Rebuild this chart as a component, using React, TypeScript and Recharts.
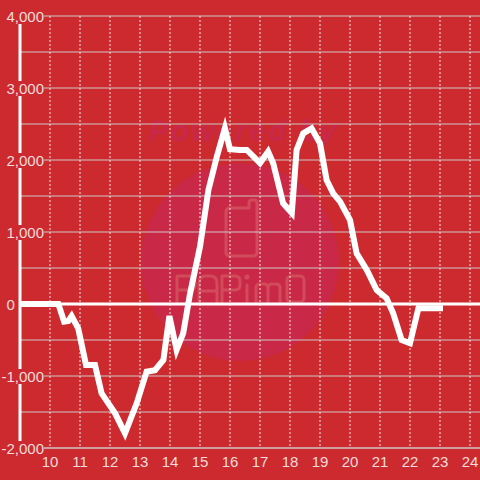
import { LineChart, Line, XAxis, YAxis, CartesianGrid, ReferenceLine } from "recharts";

// time of day (decimal hours) and running value
const hours = [
  9, 10.28, 10.47, 10.61, 10.72, 10.94, 11.2, 11.5, 11.72, 12.17, 12.5, 12.89, 13.22, 13.5,
  13.78, 13.98, 14.22, 14.44, 14.67, 15.0, 15.28, 15.56, 15.83, 16.0, 16.33, 16.56, 17.0,
  17.27, 17.44, 17.77, 18.06, 18.22, 18.44, 18.72, 19.0, 19.22, 19.44, 19.67, 20.0, 20.22,
  20.56, 20.89, 21.22, 21.44, 21.72, 22.0, 22.28, 23.0,
];
const values = [
  0, 0, -245, -235, -167, -338, -847, -847, -1241, -1518, -1796, -1380, -940, -920,
  -778, -167, -639, -407, 148, 796, 1583, 2046, 2440, 2150, 2140, 2140, 1958,
  2116, 1954, 1400, 1264, 2139, 2370, 2440, 2231, 1722, 1537, 1421, 1167, 704,
  472, 194, 79, -130, -500, -546, -60, -60,
];

const xTicks = [10, 11, 12, 13, 14, 15, 16, 17, 18, 19, 20, 21, 22, 23, 24];
const yTicks = [-2000, -1000, 0, 1000, 2000, 3000, 4000];
const yGrid = [-2000, -1500, -1000, -500, 0, 500, 1000, 1500, 2000, 2500, 3000, 3500, 4000];

const data = hours.map((h, i) => ({ h, v: values[i] }));

const BG = "#cc2a2f";
const LABEL = "#f2dcdc";
const MARK = "#d24b5b";
const FONT = "'Liberation Sans', Arial, sans-serif";
const FS = 15;

const fmt = (v: number) => v.toLocaleString("en-US");

// rough Liberation Sans advance widths
function charW(c: string) {
  return (c === "," ? 0.278 : c === "-" ? 0.333 : 0.556) * FS;
}
function textWidth(s: string) {
  let w = 0;
  for (const c of s) w += charW(c);
  return w;
}

/** y labels sit on top of the axis bar (minus sign hangs left), with a background patch */
function YTick({ x, y, payload }: any) {
  const label = fmt(payload.value);
  const w = textWidth(label);
  const left = x - 13.5 - (payload.value < 0 ? charW("-") : 0);
  return (
    <g>
      <rect x={left} y={y - 7} width={w} height={15} fill={BG} />
      <text x={left} y={y} dy={6} textAnchor="start" fill={LABEL} fontSize={FS} fontFamily={FONT}>
        {label}
      </text>
    </g>
  );
}

function Watermark() {
  return (
    <svg width={480} height={480} style={{ position: "absolute", left: 0, top: 0 }}>
      <circle cx={240} cy={262} r={99} fill="#c92946" />
      <text
        x={149}
        y={141}
        fontSize={29}
        fontWeight="bold"
        fontStyle="italic"
        fontFamily={FONT}
        fill="#c8284a"
        textLength={187}
      >
        Powered by
      </text>
      <g fill="none" stroke={MARK} strokeWidth={3} strokeLinecap="round" strokeLinejoin="round">
        <path d="M226 212 Q226 208 230 208 H249 V203 Q249 200 252 200 H254 Q257 200 257 203 V252 Q257 256 253 256 H230 Q226 256 226 252 Z" />
        {/* P */}
        <path d="M177 302 V276 H190 Q195 276 195 281 V285 Q195 290 190 290 H177" />
        {/* A */}
        <path d="M199 302 V283 Q199 276 206 276 H210 Q217 276 217 283 V302 M199 291 H217" />
        {/* P */}
        <path d="M222 302 V276 H235 Q240 276 240 281 V285 Q240 290 235 290 H222" />
        {/* i */}
        <path d="M247 285 V302" />
        {/* m */}
        <path d="M256 302 V288 Q256 284 260 284 H264 Q268 284 268 288 V302 M268 288 Q268 284 272 284 H276 Q280 284 280 288 V302" />
        {/* O */}
        <rect x={287} y={276} width={17} height={26} rx={4} />
      </g>
      <circle cx={247} cy={277} r={2.5} fill={MARK} />
    </svg>
  );
}

export default function App() {
  return (
    <div style={{ position: "fixed", left: 0, top: 0, width: 480, height: 480, background: BG }}>
      <Watermark />
      <div style={{ position: "absolute", left: 0, top: 0 }}>
        <LineChart width={480} height={480} data={data} margin={{ top: 16, right: 0, left: 0, bottom: 0 }}>
          <CartesianGrid vertical={false} horizontalValues={yGrid} stroke="#cfc6c6" strokeWidth={1} />
          <CartesianGrid horizontal={false} verticalValues={xTicks} stroke="#eee4e4" strokeDasharray="2 2" />
          <XAxis
            type="number"
            dataKey="h"
            domain={[9, 24.333]}
            ticks={xTicks}
            allowDataOverflow
            height={32}
            tickLine={false}
            axisLine={{ stroke: "#cfc6c6" }}
            tick={{ fill: LABEL, fontSize: FS, fontFamily: FONT }}
          />
          <YAxis
            domain={[-2000, 4000]}
            ticks={yTicks}
            width={20}
            tickLine={false}
            tickSize={0}
            tickMargin={0}
            axisLine={{ stroke: "#ffffff", strokeWidth: 3 }}
            tick={<YTick />}
          />
          <ReferenceLine y={0} stroke="#ffffff" strokeWidth={3} />
          <Line
            type="linear"
            dataKey="v"
            stroke="#ffffff"
            strokeWidth={6}
            strokeLinecap="square"
            strokeLinejoin="miter"
            dot={false}
            activeDot={false}
            isAnimationActive={false}
          />
        </LineChart>
      </div>
    </div>
  );
}
